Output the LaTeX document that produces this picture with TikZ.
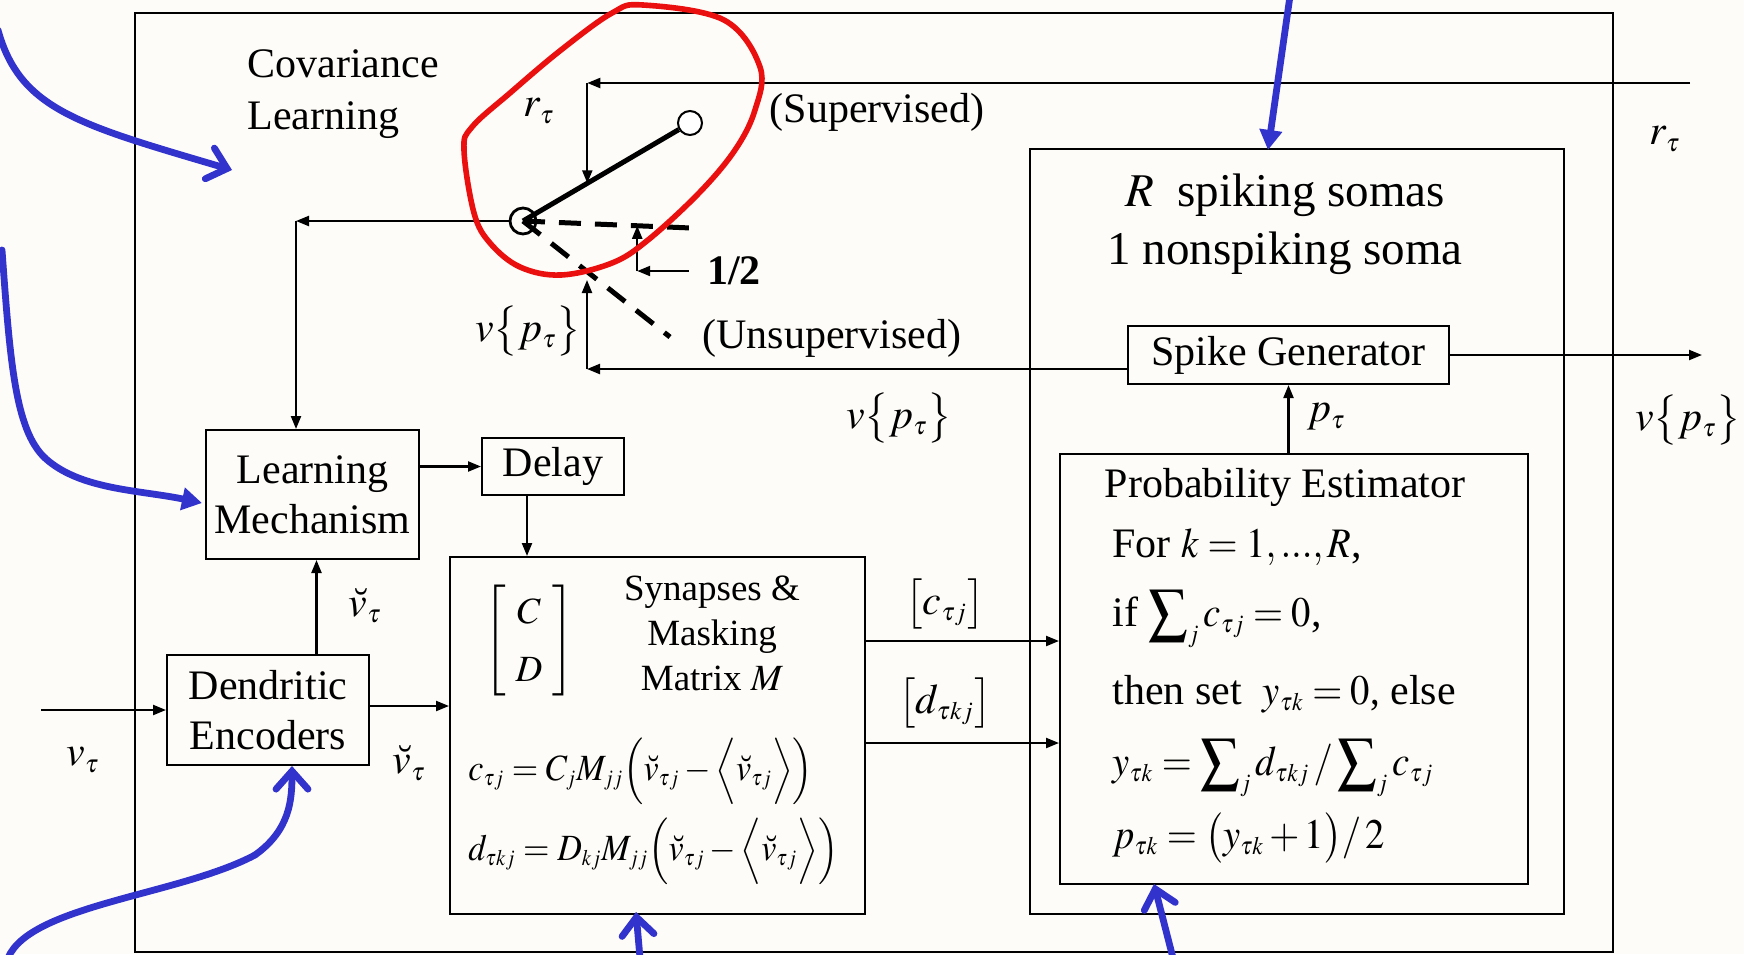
\documentclass[tikz,border=0pt]{standalone}
\usepackage{mathptmx}
\usepackage[no-math]{fontspec}
\setmainfont{Liberation Serif}
\usetikzlibrary{arrows.meta,calc}
\def\defaultscriptratio{.6}
\def\defaultscriptscriptratio{.45}
\definecolor{annblue}{RGB}{50,50,205}
\definecolor{annred}{RGB}{235,16,16}
\definecolor{bgc}{RGB}{253,252,248}
\newcommand\fsmain{\fontsize{21}{25}\selectfont}
\newcommand\fscov{\fontsize{21}{26}\selectfont}
\newcommand\fssoma{\fontsize{23.5}{29}\selectfont}
\newcommand\fssyn{\fontsize{18.5}{22.5}\selectfont}
\newcommand\fshalf{\fontsize{21}{25}\selectfont\bfseries}
\newcommand\hsq[1]{\scalebox{0.92}[1]{#1}}
\tikzset{
  box/.style={draw, line width=1pt, inner sep=0pt},
  conn/.style={line width=1.1pt, -{Triangle[length=6.5pt,width=5pt]}},
  lbl/.style={inner sep=0pt, font=\fsmain},
  arm/.style={line width=2.5pt},
  dashline/.style={line width=2.5pt, dash pattern=on 11pt off 7pt},
  annot/.style={draw=annblue, line width=3.4pt, line cap=round, line join=round},
  barb/.style={-{Straight Barb[length=9pt,width=16pt,line cap=round]}},
  tri/.style={-{Triangle[length=10pt,width=11pt]}},
}
\begin{document}
\begin{tikzpicture}[x=0.5pt,y=-0.5pt]
\fill[bgc] (0,0) rectangle (1744,954);
\useasboundingbox (0,0) rectangle (1744,954);

% outer frame
\draw[line width=1pt] (135,13) rectangle (1613,952);

% boxes
\node[box, minimum width=267pt, minimum height=382.5pt] (soma) at (1297,531.5) {};
\node[box, minimum width=160.5pt, minimum height=29pt, font=\fsmain] (sg) at (1288.5,355) {Spike Generator};
\node[box, minimum width=234pt, minimum height=215pt] (pe) at (1294,669) {};
\node[box, minimum width=106.5pt, minimum height=64.5pt, align=center, font=\fsmain] (lm) at (312.5,494.5) {Learning\\Mechanism};
\node[box, minimum width=71pt, minimum height=28.5pt, font=\fsmain] (delay) at (553,466.5) {Delay};
\node[box, minimum width=207.5pt, minimum height=178.5pt] (syn) at (657.5,735.5) {};
\node[box, minimum width=101pt, minimum height=55pt, align=center, font=\fsmain] (de) at (268,710) {Dendritic\\Encoders};

% switch
\node[circle, draw, line width=1.4pt, minimum size=13pt, inner sep=0pt] (piv) at (523,221) {};
\node[circle, draw, line width=1pt, minimum size=12pt, inner sep=0pt, fill=white] (ctop) at (690,123) {};
\draw[arm] (piv.center) -- (ctop);
\coordinate (sdash) at (691,228);
\coordinate (udash) at (670,337);
\draw[dashline] (piv.center) -- (sdash);
\draw[dashline] (piv.center) -- (udash);

% r_tau input
\coordinate (rin) at (1690,83);
\coordinate (armpt) at ($(piv.center)!0.385!(ctop.center)$);
\coordinate (rcorner) at (armpt |- rin);
\draw[conn] (rin) -- (rcorner);
\draw[conn] (rcorner) -- (armpt);

% 1/2
\node[lbl, font=\fshalf] (half) at (734,271) {1/2};
\coordinate (hpt) at ($(piv.center)!0.68!(sdash)$);
\coordinate (hcorner) at (hpt |- half);
\draw[conn] ([xshift=-9pt]half.west) -- (hcorner);
\draw[conn] (hcorner) -- (hpt);

% v{p} feedback
\coordinate (fbstart) at ([yshift=-7pt]sg.west);
\coordinate (ftip) at (587,280);
\coordinate (fcorner) at (ftip |- fbstart);
\draw[conn] (fbstart) -- (fcorner);
\draw[conn] (fcorner) -- (ftip);

% switch output to learning mechanism
\coordinate (lcorner) at (296,221);
\draw[conn] (piv.west) -- (lcorner);
\draw[conn] (lcorner) -- (lcorner |- lm.north);

% other connectors
\coordinate (vin) at (41,710);
\draw[conn] (vin) -- (de.west);
\draw[conn] ([yshift=2pt]de.east) -- ([yshift=2pt]de.east -| syn.west);
\draw[conn] ([xshift=2pt]lm.south |- de.north) -- ([xshift=2pt]lm.south);
\draw[conn] (lm.east |- delay.west) -- (delay.west);
\draw[conn] ([xshift=-13pt]delay.south) -- ([xshift=-13pt]delay.south |- syn.north);
\coordinate (cy) at (0,641);
\coordinate (dy) at (0,743);
\draw[conn] (syn.east |- cy) -- (pe.west |- cy);
\draw[conn] (syn.east |- dy) -- (pe.west |- dy);
\draw[conn] (pe.north -| sg.south) -- (sg.south);
\coordinate (vout) at (1702,355);
\draw[conn] (sg.east) -- (vout);

% labels
\node[lbl, font=\fscov, align=left, anchor=west] (cov) at (247,94) {Covariance\\Learning};
\node[lbl] (lrt) at (539,111) {$r_\tau$};
\node[lbl] (lsup) at (877,112) {(Supervised)};
\node[lbl] (lvp1) at (528,331) {$v\bigl\{p_\tau\bigr\}$};
\node[lbl] (lunsup) at (832,338) {(Unsupervised)};
\node[lbl] (lvp2) at (899,418) {$v\bigl\{p_\tau\bigr\}$};
\node[lbl] (lrt2) at (1665,139) {$r_\tau$};
\node[lbl] (lvp3) at (1688,420) {$v\bigl\{p_\tau\bigr\}$};
\node[lbl] (lpt) at (1326,417) {$p_\tau$};
\node[lbl] (lc) at (945,604) {$\bigl[c_{\tau j}\bigr]$};
\node[lbl] (ld) at (945,703) {$\bigl[d_{\tau kj}\bigr]$};
\node[lbl] (lvb1) at (365,606) {$\breve v_\tau$};
\node[lbl] (lvb2) at (409,763) {$\breve v_\tau$};
\node[lbl] (lvt) at (83,760) {$v_\tau$};

\node[lbl, font=\fssoma, align=center] (somat) at (1285,224) {$R$\ \ spiking somas\\1 nonspiking soma};

\node[lbl, font=\fssyn, align=center] (synt) at (712,633) {Synapses \&\\Masking\\Matrix $M$};
\node[lbl, font=\fssyn] (cdm) at (529,641) {\renewcommand\arraystretch{1.3}$\left[\begin{array}{c}C\\D\end{array}\right]$};
\node[lbl, font=\fssyn, anchor=west] (eqc) at (468,771) {\hsq{$c_{\tau j}=C_jM_{jj}\Bigl(\breve v_{\tau j}-\Bigl\langle\breve v_{\tau j}\Bigr\rangle\Bigr)$}};
\node[lbl, font=\fssyn, anchor=west] (eqd) at (468,851) {\hsq{$d_{\tau kj}=D_{kj}M_{jj}\Bigl(\breve v_{\tau j}-\Bigl\langle\breve v_{\tau j}\Bigr\rangle\Bigr)$}};

\node[lbl] (pet) at (1285,487) {Probability Estimator};
\node[lbl, anchor=west] (pe1) at (1112,547) {For \hsq{$k=1,...,R$},};
\node[lbl, anchor=west] (pe2) at (1112,619) {if \hsq{$\displaystyle\sum\nolimits_j c_{\tau j}=0$},};
\node[lbl, anchor=west] (pe3) at (1112,694) {then set\ \ \hsq{$y_{\tau k}=0$,} else};
\node[lbl, anchor=west] (pe4) at (1112,768) {\hsq{$\displaystyle y_{\tau k}=\sum\nolimits_j d_{\tau kj}\,/\sum\nolimits_j c_{\tau j}$}};
\node[lbl, anchor=west] (pe5) at (1112,838) {\hsq{$p_{\tau k}=\bigl(y_{\tau k}+1\bigr)/\,2$}};

% red hand-drawn loop
\draw[annred, line width=2.8pt] plot[smooth cycle, tension=0.6] coordinates {
 (643,5) (724,20) (760,67) (755,110) (735,150) (699,193) (648,240) (612,263)
 (561,275) (520,267) (490,243) (474,213) (464,150) (472,127) (510,93) (561,50) (612,13)};

% blue annotation arrows
\draw[annot, barb] (-2,30) .. controls (20,110) and (80,125) .. (232,170);
\draw[annot] (2,250) .. controls (10,360) and (15,430) .. (45,458);
\draw[annot, tri] (45,458) .. controls (80,490) and (140,490) .. (202,503);
\draw[annot] (8,958) .. controls (30,905) and (180,895) .. (255,855);
\draw[annot, barb] (255,855) .. controls (290,830) and (292,800) .. (292,766);
\draw[annot, barb] (640,958) -- (636,912);
\draw[annot, barb] (1173,958) -- (1154,884);
\draw[annot, tri] (1290,-4) -- (1268,150);
\end{tikzpicture}
\end{document}
